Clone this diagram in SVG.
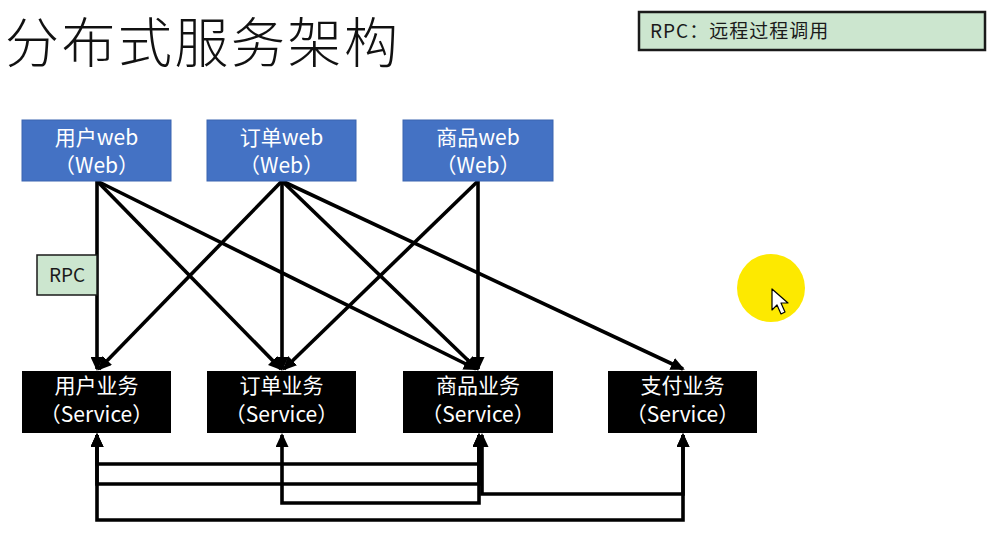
<svg xmlns="http://www.w3.org/2000/svg" width="995" height="538" viewBox="0 0 995 538">
<defs>
<style>
.web{fill:#4472c4;stroke:#3a64b0;stroke-width:1}
.svc{fill:#000}
.green{fill:#cce6cf;stroke:#1a1a1a}
.wt{fill:#fff;font-family:"Noto Sans CJK SC","Noto Sans",sans-serif;font-size:21px;text-anchor:middle}
.dt{fill:#1a1a1a;font-family:"Noto Sans CJK SC","Noto Sans",sans-serif;font-size:19px}
.ln{fill:none;stroke:#000;stroke-width:3.6}
</style>
<marker id="ah" viewBox="0 0 14 13" markerWidth="14" markerHeight="13" refX="12" refY="6.5" markerUnits="userSpaceOnUse" orient="auto-start-reverse">
<path d="M0,0 L14,6.5 L0,13 z" fill="#000"/>
</marker>
</defs>
<rect width="995" height="538" fill="#fff"/>
<text x="5" y="63" font-family="'Noto Sans CJK SC',sans-serif" font-size="54" font-weight="300" letter-spacing="2.5" fill="#111">分布式服务架构</text>
<g id="legend">
<rect class="green" x="639" y="12" width="346" height="38" stroke-width="2.5"/>
<text class="dt" x="650" y="38" font-size="21" letter-spacing="1">RPC：远程过程调用</text>
</g>
<g id="connectors">
<path class="ln" d="M97,181 L97,369" marker-end="url(#ah)"/>
<path class="ln" d="M97,181 L281,369" marker-end="url(#ah)"/>
<path class="ln" d="M97,181 L476,369" marker-end="url(#ah)"/>
<path class="ln" d="M282,181 L99,369" marker-end="url(#ah)"/>
<path class="ln" d="M282,181 L282,369" marker-end="url(#ah)"/>
<path class="ln" d="M282,181 L477,369" marker-end="url(#ah)"/>
<path class="ln" d="M282,181 L683,369" marker-end="url(#ah)"/>
<path class="ln" d="M478,181 L284,369" marker-end="url(#ah)"/>
<path class="ln" d="M478,181 L478,369" marker-end="url(#ah)"/>
<path class="ln" d="M97,435 V464 H479 V435" marker-start="url(#ah)" marker-end="url(#ah)"/>
<path class="ln" d="M97,435 V484 H479 V435" marker-start="url(#ah)" marker-end="url(#ah)"/>
<path class="ln" d="M282,435 V503 H479 V435" marker-start="url(#ah)" marker-end="url(#ah)"/>
<path class="ln" d="M482,435 V494 H683 V435" marker-start="url(#ah)" marker-end="url(#ah)"/>
<path class="ln" d="M97,435 V520 H683 V435" marker-start="url(#ah)" marker-end="url(#ah)"/>
</g>
<g id="rpc-label">
<rect class="green" x="37" y="255" width="60" height="40" stroke-width="1.5"/>
<text class="dt" x="67" y="282" text-anchor="middle" font-size="18">RPC</text>
</g>
<g id="web-user">
<rect class="web" x="22" y="120" width="149" height="61"/>
<text class="wt" x="96.5" y="145">用户web</text>
<text class="wt" x="96.5" y="173">（Web）</text>
</g>
<g id="web-order">
<rect class="web" x="207" y="120" width="149" height="61"/>
<text class="wt" x="281.5" y="145">订单web</text>
<text class="wt" x="281.5" y="173">（Web）</text>
</g>
<g id="web-goods">
<rect class="web" x="403" y="120" width="150" height="61"/>
<text class="wt" x="478" y="145">商品web</text>
<text class="wt" x="478" y="173">（Web）</text>
</g>
<g id="svc-user">
<rect class="svc" x="22" y="371" width="149" height="62"/>
<text class="wt" x="96.5" y="393" font-size="22">用户业务</text>
<text class="wt" x="96.5" y="422">（Service）</text>
</g>
<g id="svc-order">
<rect class="svc" x="207" y="371" width="149" height="62"/>
<text class="wt" x="281.5" y="393" font-size="22">订单业务</text>
<text class="wt" x="281.5" y="422">（Service）</text>
</g>
<g id="svc-goods">
<rect class="svc" x="403" y="371" width="150" height="62"/>
<text class="wt" x="478" y="393" font-size="22">商品业务</text>
<text class="wt" x="478" y="422">（Service）</text>
</g>
<g id="svc-pay">
<rect class="svc" x="608" y="371" width="149" height="62"/>
<text class="wt" x="682.5" y="393" font-size="22">支付业务</text>
<text class="wt" x="682.5" y="422">（Service）</text>
</g>
<g id="cursor">
<circle cx="771" cy="288" r="34" fill="#fde900"/>
<path d="M772,289 L772,310 L777,305 L781,314 L785,312 L781,303 L788,303 Z" fill="#fff" stroke="#000" stroke-width="1.2" stroke-linejoin="round"/>
</g>
</svg>
